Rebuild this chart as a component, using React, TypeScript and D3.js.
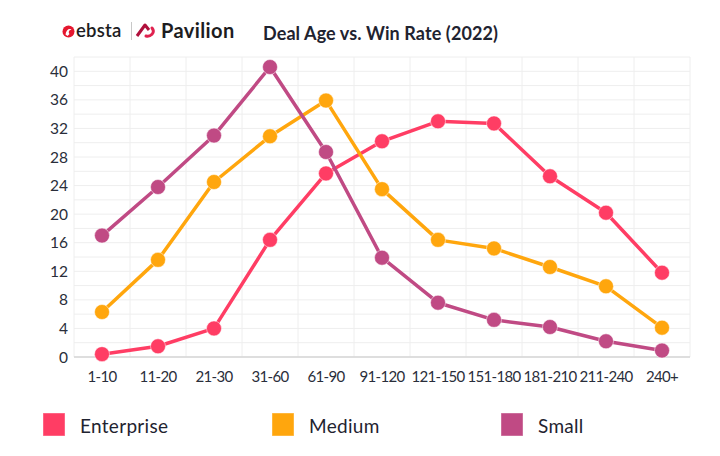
import * as d3 from 'd3'

const categories = ['1-10', '11-20', '21-30', '31-60', '61-90', '91-120', '121-150', '151-180', '181-210', '211-240', '240+']
const enterprise = [0.4, 1.5, 4.0, 16.4, 25.7, 30.2, 33.0, 32.7, 25.3, 20.2, 11.8]
const medium = [6.3, 13.6, 24.5, 30.9, 35.9, 23.5, 16.4, 15.2, 12.6, 9.9, 4.1]
const small = [17.0, 23.8, 31.0, 40.6, 28.7, 13.9, 7.6, 5.2, 4.2, 2.2, 0.9]
const yTickLabels = [0, 4, 8, 12, 16, 20, 24, 28, 32, 36, 40]

const seriesNames = ['Enterprise', 'Medium', 'Small']
const seriesColors = ['#ff3d64', '#ffa60d', '#c04a84']
const seriesValues = [enterprise, medium, small]

const font = 'Lato, "Noto Sans", sans-serif'

export default function App() {
  const width = 720
  const height = 456
  const plot = { left: 74, right: 690, top: 57, bottom: 357 }

  const x = d3.scaleBand().domain(categories).range([plot.left, plot.right]).padding(0)
  const y = d3.scaleLinear().domain([0, 42]).range([plot.bottom, plot.top])
  const cx = (c: string) => (x(c) ?? 0) + x.bandwidth() / 2

  const line = d3
    .line<number>()
    .x((_, i) => cx(categories[i]))
    .y((v) => y(v))

  const minorTicks = d3.range(0, 43, 2)

  return (
    <div style={{ position: 'absolute', left: 0, top: 0, width, height, background: '#fff' }}>
      <svg width={width} height={height} style={{ display: 'block', fontFamily: font }}>
        <rect width={width} height={height} fill="#fff" />

        {/* logos */}
        <g>
          <circle cx={68.5} cy={31.5} r={6} fill="#e5172f" />
          <path d="M65.5 34.5 C66 30 69 28 71.5 29.5 C69 30 68 32 69.5 34 L67.5 36 Z" fill="#fff" />
          <text x={76} y={37} fontSize={18.5} fontWeight={600} fill="#1d1d1f" letterSpacing={0.2}>
            ebsta
          </text>
          <line x1={131.5} x2={131.5} y1={22} y2={40} stroke="#c8c8c8" strokeWidth={1} />
          <path d="M137 36 L145 25 L149 30" fill="none" stroke="#b0103c" strokeWidth={3} strokeLinejoin="round" />
          <path d="M146 36 C150 37 156 33 152 28" fill="none" stroke="#e0224f" strokeWidth={3} strokeLinecap="round" />
          <text x={161} y={38} fontSize={20} fontWeight={700} fill="#1d1d1f" letterSpacing={0.4}>
            Pavilion
          </text>
        </g>

        <text x={263} y={40} fontSize={18} fontWeight={700} fill="#1f2330" letterSpacing={0.1}>
          Deal Age vs. Win Rate (2022)
        </text>

        {/* grid */}
        {minorTicks.map((t) => (
          <line key={`h${t}`} x1={plot.left} x2={plot.right} y1={y(t)} y2={y(t)} stroke="#eeeeee" strokeWidth={1} />
        ))}
        {categories.map((c) => (
          <line key={`v${c}`} x1={x(c)} x2={x(c)} y1={plot.top} y2={plot.bottom} stroke="#eeeeee" strokeWidth={1} />
        ))}
        <line x1={plot.right} x2={plot.right} y1={plot.top} y2={plot.bottom} stroke="#eeeeee" />
        <line x1={plot.left} x2={plot.right} y1={plot.bottom} y2={plot.bottom} stroke="#d6d6d6" strokeWidth={1.5} />

        {/* y labels */}
        {yTickLabels.map((t) => (
          <text key={`yl${t}`} x={68} y={y(t) + 5.5} textAnchor="end" fontSize={15.5} fill="#2a2e3a">
            {t}
          </text>
        ))}

        {/* x labels */}
        {categories.map((c) => (
          <text
            key={`xl${c}`}
            x={cx(c)}
            y={382}
            textAnchor="middle"
            fontSize={15}
            letterSpacing={-0.7}
            fill="#2a2e3a"
          >
            {c}
          </text>
        ))}

        {/* series */}
        {seriesValues.map((vals, si) => (
          <g key={seriesNames[si]}>
            <path d={line(vals) ?? ''} fill="none" stroke={seriesColors[si]} strokeWidth={3.5} strokeLinejoin="round" />
            {vals.map((v, i) => (
              <circle
                key={i}
                cx={cx(categories[i])}
                cy={y(v)}
                r={7.5}
                fill={seriesColors[si]}
                stroke="rgba(255,255,255,0.5)"
                strokeWidth={1}
              />
            ))}
          </g>
        ))}

        {/* legend */}
        {seriesNames.map((name, i) => (
          <g key={`lg${name}`} transform={`translate(${43 + i * 229},413)`}>
            <rect width={22} height={23} fill={seriesColors[i]} stroke="rgba(255,255,255,0.4)" />
            <text x={37} y={20} fontSize={19} fill="#1f2330" letterSpacing={0.3}>
              {name}
            </text>
          </g>
        ))}
      </svg>
    </div>
  )
}
